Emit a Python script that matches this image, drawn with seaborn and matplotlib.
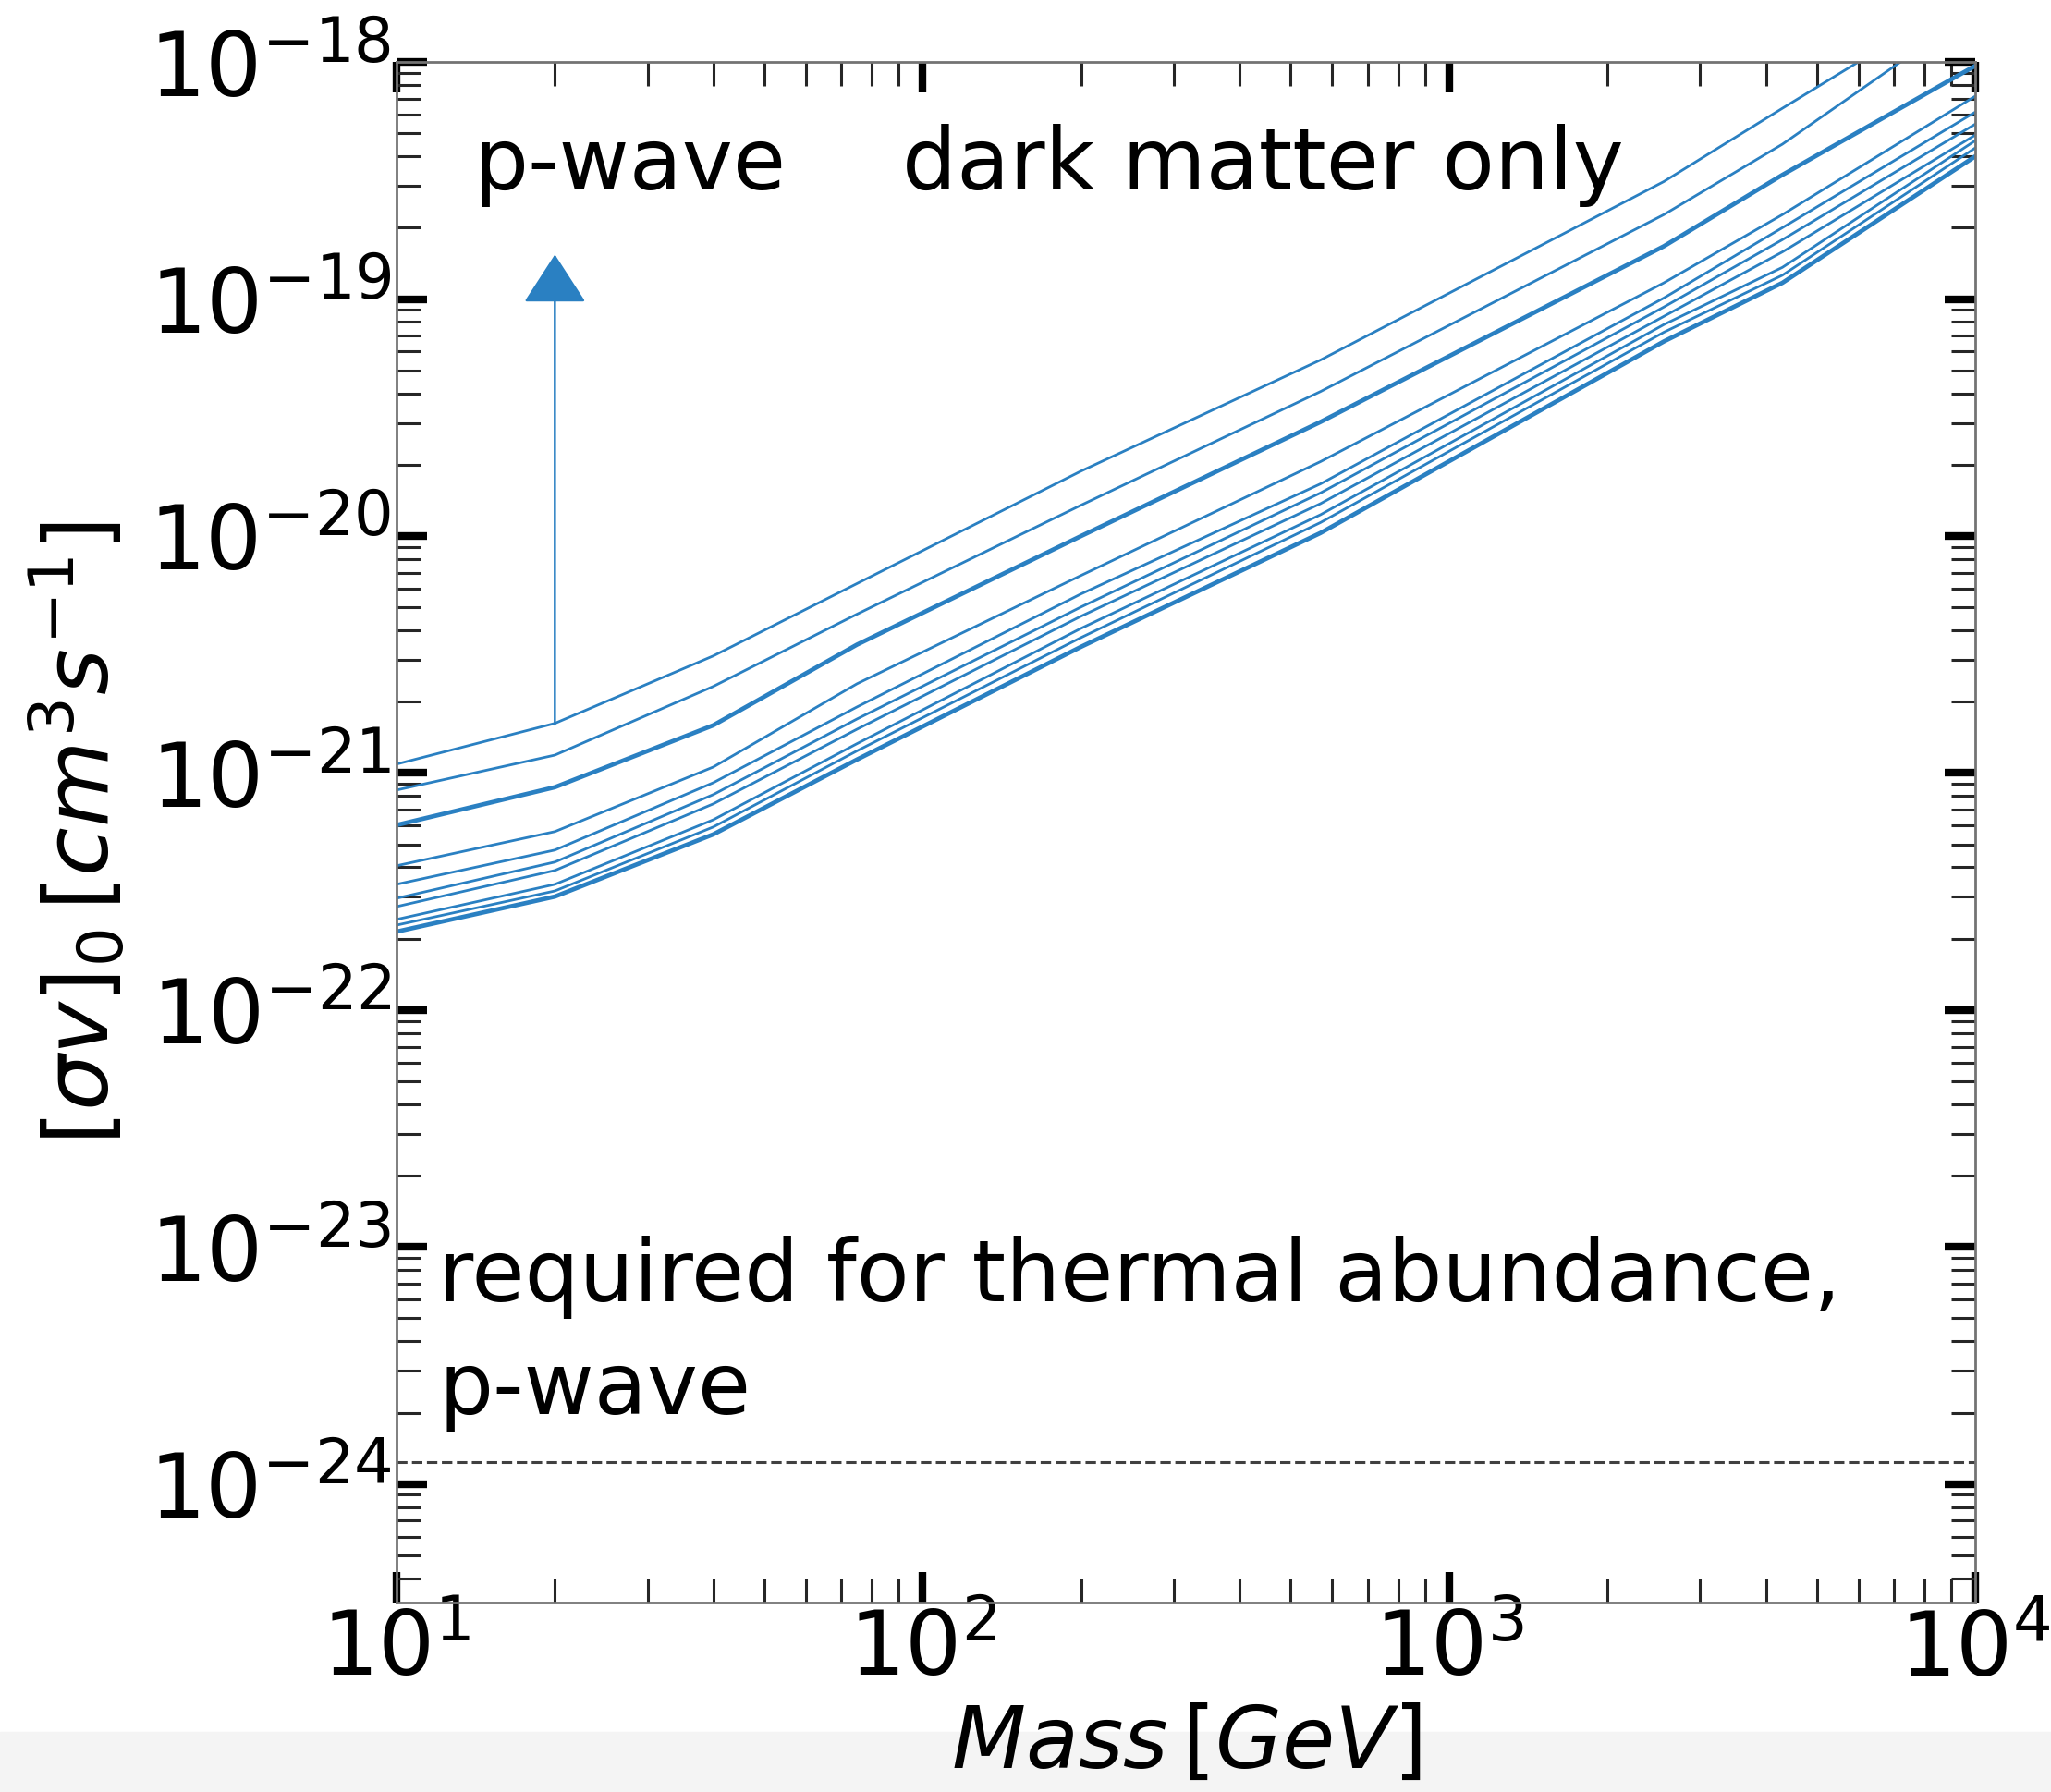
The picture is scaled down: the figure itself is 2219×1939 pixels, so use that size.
import matplotlib
matplotlib.use("agg")
import matplotlib.pyplot as plt
from matplotlib.patches import Rectangle
from matplotlib.ticker import LogLocator, NullFormatter
import numpy as np
import seaborn as sns

# dark matter mass [GeV]
mass = [10, 20, 40, 75, 200, 570, 2560, 4300, 10000]

# upper limits on [sigma v]_0, one list per curve (top to bottom)
sv_1 = [1.09e-21, 1.62e-21, 3.12e-21, 6.30e-21, 1.88e-20, 5.53e-20, 3.13e-19, 6.38e-19, 2.00e-18]
sv_2 = [8.47e-22, 1.19e-21, 2.32e-21, 4.68e-21, 1.35e-20, 4.07e-20, 2.27e-19, 4.50e-19, 1.66e-18]
sv_3 = [6.03e-22, 8.71e-22, 1.59e-21, 3.48e-21, 1.00e-20, 3.03e-20, 1.67e-19, 3.34e-19, 9.64e-19]
sv_4 = [4.06e-22, 5.66e-22, 1.06e-21, 2.38e-21, 6.82e-21, 2.06e-20, 1.17e-19, 2.27e-19, 7.18e-19]
sv_5 = [3.39e-22, 4.73e-22, 9.10e-22, 1.90e-21, 5.70e-21, 1.66e-20, 1.01e-19, 2.00e-19, 6.15e-19]
sv_6 = [2.96e-22, 4.21e-22, 8.11e-22, 1.69e-21, 5.02e-21, 1.52e-20, 9.25e-20, 1.78e-19, 5.47e-19]
sv_7 = [2.73e-22, 3.88e-22, 7.41e-22, 1.53e-21, 4.59e-21, 1.37e-20, 8.45e-20, 1.58e-19, 4.92e-19]
sv_8 = [2.41e-22, 3.39e-22, 6.35e-22, 1.33e-21, 4.08e-21, 1.23e-20, 7.80e-20, 1.36e-19, 4.66e-19]
sv_9 = [2.28e-22, 3.18e-22, 5.92e-22, 1.24e-21, 3.73e-21, 1.14e-20, 7.24e-20, 1.26e-19, 4.34e-19]
sv_10 = [2.14e-22, 3.01e-22, 5.51e-22, 1.14e-21, 3.41e-21, 1.03e-20, 6.62e-20, 1.17e-19, 4.00e-19]
curves = [sv_1, sv_2, sv_3, sv_4, sv_5, sv_6, sv_7, sv_8, sv_9, sv_10]
thick = [False, False, True, False, False, False, False, False, False, True]

thermal_pwave = 1.24e-24
arrow_x = 20
arrow_from = 1.6e-21
arrow_to = 1.54e-19

blue = '#2a80c2'
fs_tick = 69
fs_text = 67

sns.set_style("white")
plt.rcParams['font.family'] = ['DejaVu Sans']
plt.rcParams['mathtext.fontset'] = 'dejavusans'
plt.rcParams['text.color'] = 'k'
plt.rcParams['axes.labelcolor'] = 'k'
plt.rcParams['xtick.color'] = 'k'
plt.rcParams['ytick.color'] = 'k'

fig = plt.figure(figsize=(22.19, 19.40), dpi=100)
fig.patches.append(Rectangle((0, 0), 1, 0.0335, transform=fig.transFigure,
                             color='#f4f4f4', zorder=-10))
ax = fig.add_axes([0.1933, 0.1057, 0.7698, 0.8592])

for vals, th in zip(curves, thick):
    sns.lineplot(x=mass, y=vals, ax=ax, color=blue, lw=3.4 if th else 2.0,
                 estimator=None, sort=False)

ax.axhline(thermal_pwave, color='0.25', ls='--', lw=2.2)

ax.annotate('', xy=(arrow_x, arrow_to), xytext=(arrow_x, arrow_from),
            arrowprops=dict(arrowstyle='-|>,head_length=0.34,head_width=0.22',
                            color=blue, lw=1.8, mutation_scale=100,
                            shrinkA=0, shrinkB=0))

ax.text(14.0, 2.92e-19, 'p-wave', fontsize=fs_text, ha='left', va='baseline')
ax.text(91.4, 2.92e-19, 'dark matter only', fontsize=fs_text, ha='left', va='baseline')
ax.text(12.0, 2.0e-24, 'required for thermal abundance,\np-wave',
        fontsize=fs_text, ha='left', va='baseline', linespacing=1.45)

ax.set_xscale('log')
ax.set_yscale('log')
ax.set_xlim(10, 1e4)
ax.set_ylim(10 ** -24.5, 1e-18)

ax.xaxis.set_major_locator(LogLocator(base=10, numticks=20))
ax.yaxis.set_major_locator(LogLocator(base=10, numticks=20))
ax.xaxis.set_minor_locator(LogLocator(base=10, subs=np.arange(2, 10), numticks=100))
ax.yaxis.set_minor_locator(LogLocator(base=10, subs=np.arange(2, 10), numticks=100))
ax.xaxis.set_minor_formatter(NullFormatter())
ax.yaxis.set_minor_formatter(NullFormatter())

ax.tick_params(which='both', direction='in', top=True, right=True,
               bottom=True, left=True, labelsize=fs_tick, pad=4)
ax.tick_params(which='major', length=24, width=6, color='k')
ax.tick_params(which='minor', length=19, width=2.2, color='0.15')

for sp in ax.spines.values():
    sp.set_color('0.45')
    sp.set_linewidth(2)

ax.set_xlabel(r'$Mass\,[GeV]$', fontsize=67, labelpad=6)
ax.set_ylabel(r'$[\sigma v]_0\,[cm^3s^{-1}]$', fontsize=69, labelpad=16)

fig.savefig('out.png', dpi=100)
